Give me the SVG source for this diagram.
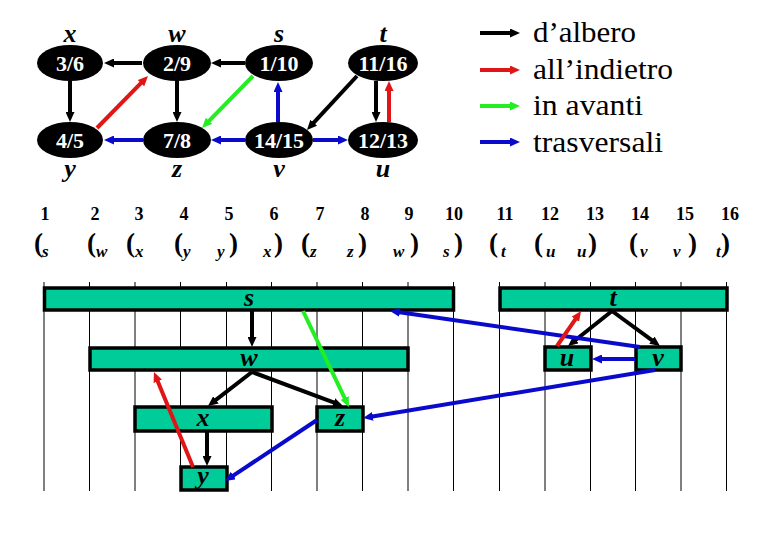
<svg xmlns="http://www.w3.org/2000/svg" width="780" height="540" viewBox="0 0 780 540">
<defs>
<style>
.e{stroke-width:4;fill:none}
.b{stroke-width:4;fill:none}
.k{stroke:#000}
.r{stroke:#E01515}
.g{stroke:#22EE22}
.u{stroke:#0A0ACC}
.node ellipse{fill:#000}
text{font-family:"Liberation Serif","Times New Roman",Times,"DejaVu Serif",serif}
.nt{font-weight:bold;font-size:22px;fill:#fff;text-anchor:middle}
.lab{font-weight:bold;font-style:italic;font-size:26px;fill:#000;text-anchor:middle}
.bar rect{fill:#00CC99;stroke:#000;stroke-width:3.5}
.grid line{stroke:#000;stroke-width:1}
.num{font-weight:bold;font-size:18px;text-anchor:middle}
.par{font-weight:bold;font-size:27px}
.sub{font-weight:bold;font-style:italic;font-size:17px}
.leg{font-size:29px}
</style>
<marker id="mk" markerUnits="userSpaceOnUse" markerWidth="10" markerHeight="9" refX="2" refY="4.5" orient="auto"><path d="M0,0 L10,4.5 L0,9 z" fill="#000"/></marker>
<marker id="mr" markerUnits="userSpaceOnUse" markerWidth="10" markerHeight="9" refX="2" refY="4.5" orient="auto"><path d="M0,0 L10,4.5 L0,9 z" fill="#E01515"/></marker>
<marker id="mg" markerUnits="userSpaceOnUse" markerWidth="10" markerHeight="9" refX="2" refY="4.5" orient="auto"><path d="M0,0 L10,4.5 L0,9 z" fill="#22EE22"/></marker>
<marker id="mu" markerUnits="userSpaceOnUse" markerWidth="10" markerHeight="9" refX="2" refY="4.5" orient="auto"><path d="M0,0 L10,4.5 L0,9 z" fill="#0A0ACC"/></marker>
</defs>
<rect width="780" height="540" fill="#fff"/>

<!-- top graph nodes -->
<g id="n-x" class="node"><ellipse cx="70" cy="63" rx="33" ry="18"/><text class="nt" x="70" y="71">3/6</text><text class="lab" x="70" y="42">x</text></g>
<g id="n-w" class="node"><ellipse cx="177" cy="63" rx="34" ry="18"/><text class="nt" x="177" y="71">2/9</text><text class="lab" x="177" y="42">w</text></g>
<g id="n-s" class="node"><ellipse cx="279" cy="63" rx="34" ry="18"/><text class="nt" x="279" y="71">1/10</text><text class="lab" x="279" y="42">s</text></g>
<g id="n-t" class="node"><ellipse cx="383" cy="63" rx="35" ry="18"/><text class="nt" x="383" y="71">11/16</text><text class="lab" x="383" y="42">t</text></g>
<g id="n-y" class="node"><ellipse cx="70" cy="140" rx="33" ry="18"/><text class="nt" x="70" y="148">4/5</text><text class="lab" x="70" y="177">y</text></g>
<g id="n-z" class="node"><ellipse cx="177" cy="140" rx="34" ry="18"/><text class="nt" x="177" y="148">7/8</text><text class="lab" x="177" y="177">z</text></g>
<g id="n-v" class="node"><ellipse cx="279" cy="140" rx="34" ry="18"/><text class="nt" x="279" y="148">14/15</text><text class="lab" x="279" y="177">v</text></g>
<g id="n-u" class="node"><ellipse cx="383" cy="140" rx="35" ry="18"/><text class="nt" x="383" y="148">12/13</text><text class="lab" x="383" y="177">u</text></g>

<!-- top graph edges -->
<g id="edges-top">
<line class="e k" x1="142" y1="63" x2="112" y2="63" marker-end="url(#mk)"/>
<line class="e k" x1="245" y1="63" x2="219" y2="63" marker-end="url(#mk)"/>
<line class="e k" x1="70" y1="81" x2="70" y2="114" marker-end="url(#mk)"/>
<line class="e k" x1="177" y1="81" x2="177" y2="114" marker-end="url(#mk)"/>
<line class="e r" x1="97" y1="128" x2="142.4" y2="81.7" marker-end="url(#mr)"/>
<line class="e g" x1="253" y1="76" x2="207.6" y2="122.3" marker-end="url(#mg)"/>
<line class="e u" x1="278" y1="122" x2="278" y2="90" marker-end="url(#mu)"/>
<line class="e k" x1="357" y1="76" x2="312.4" y2="124.1" marker-end="url(#mk)"/>
<line class="e k" x1="376" y1="81" x2="376" y2="114" marker-end="url(#mk)"/>
<line class="e r" x1="389" y1="122" x2="389" y2="89" marker-end="url(#mr)"/>
<line class="e u" x1="143" y1="140" x2="112" y2="140" marker-end="url(#mu)"/>
<line class="e u" x1="245" y1="140" x2="219" y2="140" marker-end="url(#mu)"/>
<line class="e u" x1="313" y1="140" x2="340" y2="140" marker-end="url(#mu)"/>
</g>

<!-- legend -->
<g id="legend">
<line class="e k" x1="480" y1="33" x2="512" y2="33" marker-end="url(#mk)"/>
<line class="e r" x1="480" y1="70" x2="512" y2="70" marker-end="url(#mr)"/>
<line class="e g" x1="480" y1="106" x2="512" y2="106" marker-end="url(#mg)"/>
<line class="e u" x1="480" y1="142" x2="512" y2="142" marker-end="url(#mu)"/>
<text class="leg" x="533" y="42" textLength="103" lengthAdjust="spacingAndGlyphs">d’albero</text>
<text class="leg" x="533" y="79" textLength="140" lengthAdjust="spacingAndGlyphs">all’indietro</text>
<text class="leg" x="533" y="115" textLength="110" lengthAdjust="spacingAndGlyphs">in avanti</text>
<text class="leg" x="533" y="152" textLength="130" lengthAdjust="spacingAndGlyphs">trasversali</text>
</g>

<!-- time numbers -->
<g id="times">
<text class="num" x="45" y="220">1</text>
<text class="num" x="95" y="220">2</text>
<text class="num" x="139" y="220">3</text>
<text class="num" x="184" y="220">4</text>
<text class="num" x="229" y="220">5</text>
<text class="num" x="274" y="220">6</text>
<text class="num" x="320" y="220">7</text>
<text class="num" x="365" y="220">8</text>
<text class="num" x="409" y="220">9</text>
<text class="num" x="454" y="220">10</text>
<text class="num" x="505" y="220">11</text>
<text class="num" x="550" y="220">12</text>
<text class="num" x="595" y="220">13</text>
<text class="num" x="640" y="220">14</text>
<text class="num" x="685" y="220">15</text>
<text class="num" x="730" y="220">16</text>
</g>

<!-- parentheses -->
<g id="parens">
<text class="par" x="34" y="252">(</text><text class="sub" x="42" y="257">s</text>
<text class="par" x="87" y="252">(</text><text class="sub" x="96" y="257">w</text>
<text class="par" x="126" y="252">(</text><text class="sub" x="135" y="257">x</text>
<text class="par" x="174" y="252">(</text><text class="sub" x="183" y="257">y</text>
<text class="sub" x="217" y="257">y</text><text class="par" x="229" y="252">)</text>
<text class="sub" x="263" y="257">x</text><text class="par" x="274" y="252">)</text>
<text class="par" x="301" y="252">(</text><text class="sub" x="310" y="257">z</text>
<text class="sub" x="347" y="257">z</text><text class="par" x="358" y="252">)</text>
<text class="sub" x="393" y="257">w</text><text class="par" x="410" y="252">)</text>
<text class="sub" x="443" y="257">s</text><text class="par" x="454" y="252">)</text>
<text class="par" x="489" y="252">(</text><text class="sub" x="501" y="257">t</text>
<text class="par" x="534" y="252">(</text><text class="sub" x="546" y="257">u</text>
<text class="sub" x="577" y="257">u</text><text class="par" x="588" y="252">)</text>
<text class="par" x="629" y="252">(</text><text class="sub" x="640" y="257">v</text>
<text class="sub" x="673" y="257">v</text><text class="par" x="688" y="252">)</text>
<text class="sub" x="716" y="257">t</text><text class="par" x="721" y="252">)</text>
</g>

<!-- grid -->
<g id="grid" class="grid">
<line x1="44" y1="282" x2="44" y2="491"/>
<line x1="89.5" y1="282" x2="89.5" y2="491"/>
<line x1="135" y1="282" x2="135" y2="491"/>
<line x1="180.5" y1="282" x2="180.5" y2="491"/>
<line x1="226.5" y1="282" x2="226.5" y2="491"/>
<line x1="271.5" y1="282" x2="271.5" y2="491"/>
<line x1="317" y1="282" x2="317" y2="491"/>
<line x1="362.5" y1="282" x2="362.5" y2="491"/>
<line x1="408" y1="282" x2="408" y2="491"/>
<line x1="453.5" y1="282" x2="453.5" y2="491"/>
<line x1="499.5" y1="282" x2="499.5" y2="491"/>
<line x1="545" y1="282" x2="545" y2="491"/>
<line x1="590.5" y1="282" x2="590.5" y2="491"/>
<line x1="635.5" y1="282" x2="635.5" y2="491"/>
<line x1="681" y1="282" x2="681" y2="491"/>
<line x1="726.5" y1="282" x2="726.5" y2="491"/>
</g>

<!-- bars -->
<g id="b-s" class="bar"><rect x="44.5" y="288" width="409" height="22"/><text class="lab" x="249" y="306">s</text></g>
<g id="b-w" class="bar"><rect x="90" y="348" width="318" height="22"/><text class="lab" x="249" y="366">w</text></g>
<g id="b-x" class="bar"><rect x="135" y="407" width="137" height="24"/><text class="lab" x="203" y="426">x</text></g>
<g id="b-z" class="bar"><rect x="317" y="407" width="46" height="24"/><text class="lab" x="340" y="426">z</text></g>
<g id="b-y" class="bar"><rect x="181" y="467" width="46" height="23"/><text class="lab" x="203" y="484">y</text></g>
<g id="b-t" class="bar"><rect x="500" y="288" width="227" height="22"/><text class="lab" x="613" y="306">t</text></g>
<g id="b-u" class="bar"><rect x="545" y="347" width="46" height="23"/><text class="lab" x="567" y="366">u</text></g>
<g id="b-v" class="bar"><rect x="636" y="347" width="45" height="23"/><text class="lab" x="658" y="366">v</text></g>

<!-- bottom connectors -->
<g id="edges-bottom">
<line class="b k" x1="252" y1="311" x2="252" y2="339" marker-end="url(#mk)"/>
<line class="b k" x1="252" y1="372" x2="214.3" y2="401.1" marker-end="url(#mk)"/>
<line class="b k" x1="252" y1="372" x2="335.5" y2="403.2" marker-end="url(#mk)"/>
<line class="b k" x1="207" y1="432" x2="207" y2="458" marker-end="url(#mk)"/>
<line class="b g" x1="303" y1="311" x2="345.5" y2="399.8" marker-end="url(#mg)"/>
<line class="b r" x1="193" y1="467" x2="157" y2="379.4" marker-end="url(#mr)"/>
<line class="b u" x1="317" y1="420" x2="231.7" y2="476.6" marker-end="url(#mu)"/>
<line class="b u" x1="655" y1="370" x2="370.9" y2="416.7" marker-end="url(#mu)"/>
<line class="b k" x1="612" y1="311" x2="574.3" y2="341" marker-end="url(#mk)"/>
<line class="b k" x1="612" y1="311" x2="653.5" y2="341.3" marker-end="url(#mk)"/>
<line class="b u" x1="640" y1="347" x2="397.9" y2="312.1" marker-end="url(#mu)"/>
<line class="b u" x1="635" y1="359" x2="600" y2="359" marker-end="url(#mu)"/>
<line class="b r" x1="557" y1="346" x2="576.5" y2="317.6" marker-end="url(#mr)"/>
</g>
</svg>
